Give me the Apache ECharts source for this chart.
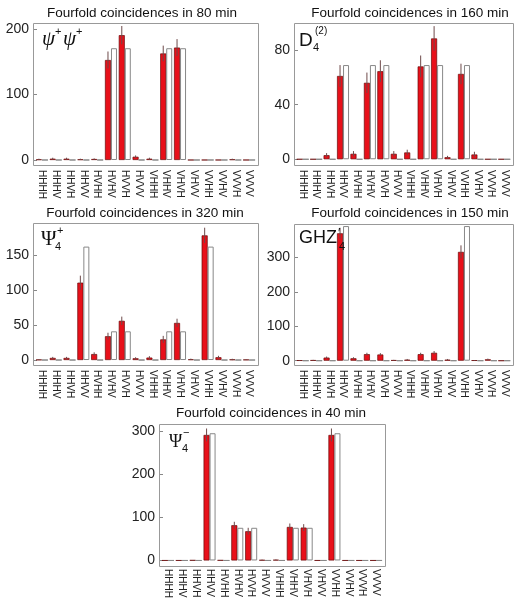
<!DOCTYPE html>
<html>
<head>
<meta charset="utf-8">
<script src="https://cdn.jsdelivr.net/npm/echarts@6/dist/echarts.min.js"></script>
<style>
html,body{margin:0;padding:0;background:#fff;}
#chart{width:515px;height:601px;}
</style>
</head>
<body>
<div id="chart"></div>
<script>
// ---------- data ----------
const categories = ['HHHH','HHHV','HHVH','HHVV','HVHH','HVHV','HVVH','HVVV','VHHH','VHHV','VHVH','VHVV','VVHH','VVHV','VVVH','VVVV'];

const titles = ['Fourfold coincidences in 80 min','Fourfold coincidences in 160 min','Fourfold coincidences in 320 min','Fourfold coincidences in 150 min','Fourfold coincidences in 40 min'];

// panel 1: psi+ psi+ (80 min)
const measured1 = [1,2,2,1,1.5,153,191,5,2,163,172,0,0,0,1,0];
const errors1   = [1,1.5,1.5,1,1,13,14,2,1.5,12,13,0,0,0,1,0];
const theory1   = [0,0,0,0,0,171,171,0,0,171,171,0,0,0,0,0];
const ticks1    = [0,100,200];

// panel 2: D4(2) (160 min)
const measured2 = [0,0,3,61,4,56,64.5,4,5,68,88.5,1.5,62.5,3.5,0,0];
const errors2   = [0,0,1.5,8,2,7.5,8,2,2,8,9,1,7.5,2,0,0];
const theory2   = [0,0,0,69,0,69,69,0,0,69,69,0,69,0,0,0];
const ticks2    = [0,40,80];

// panel 3: Psi4+ (320 min)
const measured3 = [0.5,3,3,110.5,8.5,34,56,2.5,3.5,29.5,53,1,178,4,0.8,0.5];
const errors3   = [0.5,1.5,1.5,10,2.5,5,6,1.5,2,5,6,1,11,2,1,0.5];
const theory3   = [0,0,0,162,0,41,41,0,0,41,41,0,162,0,0,0];
const ticks3    = [0,50,100,150];

// panel 4: GHZ'4 (150 min)
const measured4 = [1,1.5,9,370,7,19,18,1.5,3,19,23,3,316,1,4,0];
const errors4   = [1,1,3,16,3,4,4,1,2,4,5,2,19,1,2,0];
const theory4   = [0,0,0,391,0,0,0,0,0,0,0,0,391,0,0,0];
const ticks4    = [0,100,200,300];

// panel 5: Psi4- (40 min)
const measured5 = [0,0,0.5,292,0.5,82,68,1,1.5,78,76.5,0,292,0,0,0];
const errors5   = [0,0,0.5,15,0.5,8,8,1,1,8,8,0,15,0,0,0];
const theory5   = [0,0,0,296,0,76,76,0,0,76,76,0,296,0,0,0];
const ticks5    = [0,100,200,300];

// ---------- layout ----------
const panels = [
  {fx:33,  fy:23,  fw:225, fh:142, ymin:-7.65, ymax:209.6, m:measured1, e:errors1, t:theory1, ticks:ticks1, tx:142, ty:6},
  {fx:294, fy:23,  fw:219, fh:142, ymin:-4.2,  ymax:99.8,  m:measured2, e:errors2, t:theory2, ticks:ticks2, tx:410, ty:6},
  {fx:33,  fy:223, fw:225, fh:142, ymin:-7.1,  ymax:195.7, m:measured3, e:errors3, t:theory3, ticks:ticks3, tx:145, ty:206},
  {fx:294, fy:224, fw:219, fh:141, ymin:-12.5, ymax:397,   m:measured4, e:errors4, t:theory4, ticks:ticks4, tx:410, ty:206},
  {fx:159, fy:424, fw:226, fh:142, ymin:-8.5,  ymax:317.5, m:measured5, e:errors5, t:theory5, ticks:ticks5, tx:271, ty:406}
];

const BAR_W = 6;
const RED = '#e8101a';
const grids = [], xAxes = [], yAxes = [], series = [], graphics = [];

panels.forEach((p, i) => {
  grids.push({left: p.fx + 2, top: p.fy, width: p.fw - 4, height: p.fh, containLabel: false});
  xAxes.push({
    type: 'category', gridIndex: i, data: categories,
    axisLine: {show: false}, axisTick: {show: false},
    axisLabel: {rotate: -90, interval: 0, fontSize: 10, margin: 5, color: '#222', fontFamily: 'Liberation Sans'}
  });
  yAxes.push({
    type: 'value', gridIndex: i, min: p.ymin, max: p.ymax, offset: 2,
    axisLine: {show: false}, splitLine: {show: false},
    axisTick: {show: true, inside: true, length: 4, customValues: p.ticks, lineStyle: {color: '#888'}},
    axisLabel: {customValues: p.ticks, fontSize: 14, color: '#222', margin: 4, fontFamily: 'Liberation Sans'}
  });
  series.push({
    type: 'bar', xAxisIndex: i, yAxisIndex: i, data: p.m, barWidth: BAR_W, barGap: '0%',
    itemStyle: {color: RED, borderColor: '#6a0a0a', borderWidth: 0.7}, animation: false
  });
  series.push({
    type: 'bar', xAxisIndex: i, yAxisIndex: i, data: p.t, barWidth: BAR_W, barGap: '0%',
    itemStyle: {color: '#ffffff', borderColor: '#888', borderWidth: 1}, animation: false
  });
  series.push({
    type: 'custom', xAxisIndex: i, yAxisIndex: i, z: 5, animation: false,
    data: categories.map((c, j) => [j, p.m[j] - p.e[j], p.m[j] + p.e[j]]),
    renderItem: function (params, api) {
      const lo = api.coord([api.value(0), api.value(1)]);
      const hi = api.coord([api.value(0), api.value(2)]);
      const x = lo[0] - BAR_W / 2;
      return {type: 'line', shape: {x1: x, y1: lo[1], x2: x, y2: hi[1]},
              style: {stroke: '#6e4a4a', lineWidth: 1}};
    }
  });
  // frame
  graphics.push({type: 'rect', shape: {x: p.fx + 0.5, y: p.fy + 0.5, width: p.fw, height: p.fh},
                 style: {fill: 'none', stroke: '#999', lineWidth: 1}, z: 10, silent: true});
  // title
  graphics.push({type: 'text', x: p.tx, y: p.ty,
                 style: {text: titles[i], fontSize: 13.5, fontFamily: 'Liberation Sans', fill: '#111', align: 'center', verticalAlign: 'top'}});
});

function txt(x, y, s, size, family, style) {
  return {type: 'text', x: x, y: y, z: 20,
          style: {text: s, fontSize: size, fontFamily: family, fontStyle: style || 'normal', fill: '#111', align: 'left', verticalAlign: 'top'}};
}
const SERIF = 'Liberation Serif';
const SANS = 'Liberation Sans';
// panel state labels
graphics.push(
  txt(42, 29, 'ψ', 21, SERIF, 'italic'), txt(55, 26, '+', 11, SANS),
  txt(63, 29, 'ψ', 21, SERIF, 'italic'), txt(76, 26, '+', 11, SANS),
  txt(299, 31, 'D', 19, SANS), txt(313, 42, '4', 11, SANS), txt(315, 26, '(2)', 10, SANS),
  txt(41, 229, 'Ψ', 21, SERIF), txt(55, 241, '4', 11, SANS), txt(57, 225, '+', 11, SANS),
  txt(299, 229, 'GHZ', 18, SANS), txt(338, 227, '′', 13, SANS), txt(339, 241, '4', 11, SANS),
  txt(169, 433, 'Ψ', 18, SERIF), txt(182, 443, '4', 11, SANS), txt(183, 427, '−', 11, SANS)
);

const chart = echarts.init(document.getElementById('chart'), null, {renderer: 'canvas'});
chart.setOption({
  animation: false,
  grid: grids, xAxis: xAxes, yAxis: yAxes, series: series, graphic: graphics
});
</script>
</body>
</html>
